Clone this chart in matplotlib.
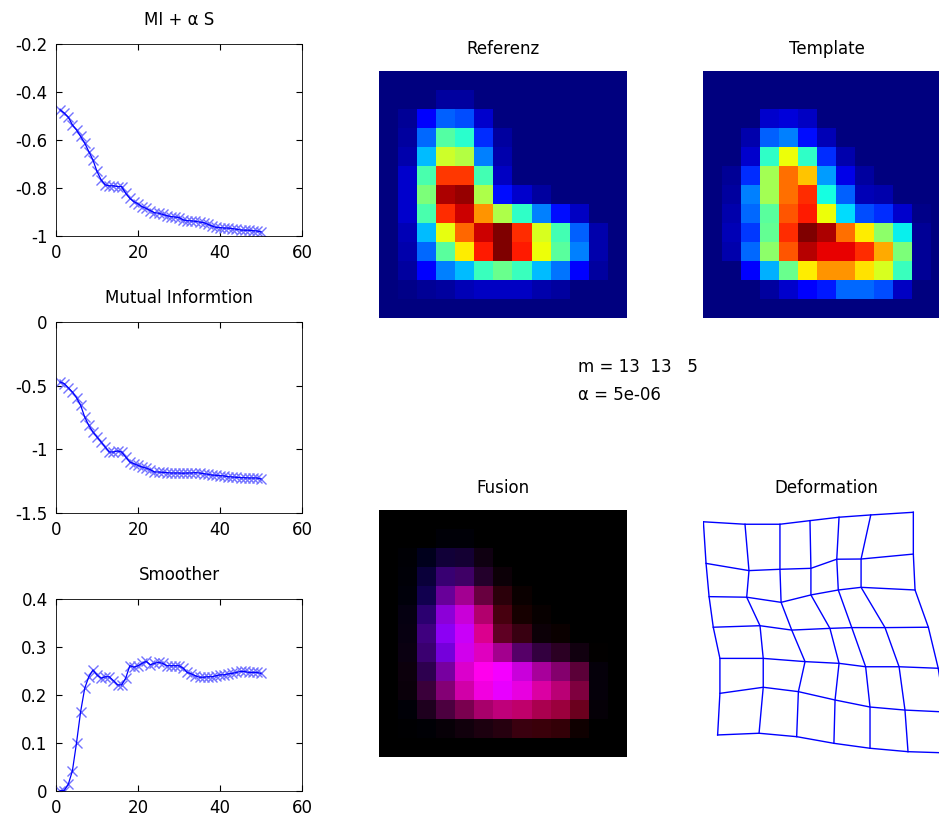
import numpy as np
import matplotlib
matplotlib.use("Agg")
import matplotlib.pyplot as plt

plt.rcParams['font.family'] = ['DejaVu Sans']

# Verlauf der Kostenfunktion ueber die Iterationen
iterations = np.arange(1, 51)

mi_alpha_s = [-0.474, -0.488, -0.505, -0.537, -0.558, -0.585, -0.613, -0.648, -0.683, -0.731,
              -0.766, -0.787, -0.791, -0.791, -0.794, -0.794, -0.822, -0.843, -0.857, -0.866,
              -0.878, -0.885, -0.894, -0.903, -0.905, -0.910, -0.915, -0.919, -0.921, -0.923,
              -0.933, -0.936, -0.937, -0.939, -0.942, -0.944, -0.951, -0.958, -0.964, -0.965,
              -0.967, -0.967, -0.969, -0.972, -0.975, -0.976, -0.976, -0.978, -0.979, -0.983]

mutual_info = [-0.471, -0.484, -0.516, -0.550, -0.594, -0.654, -0.746, -0.812, -0.864, -0.903,
               -0.942, -0.982, -1.021, -1.021, -1.013, -1.021, -1.060, -1.099, -1.113, -1.126,
               -1.139, -1.147, -1.160, -1.178, -1.178, -1.181, -1.183, -1.186, -1.186, -1.186,
               -1.188, -1.186, -1.186, -1.183, -1.186, -1.191, -1.196, -1.202, -1.204, -1.207,
               -1.209, -1.215, -1.217, -1.220, -1.223, -1.223, -1.225, -1.225, -1.225, -1.233]

smoother = [0.001, 0.001, 0.014, 0.042, 0.100, 0.165, 0.214, 0.238, 0.252, 0.242,
            0.235, 0.238, 0.238, 0.230, 0.221, 0.221, 0.235, 0.261, 0.258, 0.261,
            0.266, 0.270, 0.263, 0.266, 0.268, 0.266, 0.261, 0.261, 0.261, 0.261,
            0.256, 0.247, 0.244, 0.240, 0.237, 0.237, 0.238, 0.238, 0.240, 0.242,
            0.242, 0.244, 0.245, 0.247, 0.249, 0.249, 0.247, 0.247, 0.247, 0.245]

# 13x13 Schnittbilder (normierte Intensitaet)
referenz = np.array([
    [0, 0, 0, 0, 0, 0, 0, 0, 0, 0, 0, 0, 0],
    [0, 0, 0, 0.03, 0.03, 0, 0, 0, 0, 0, 0, 0, 0],
    [0, 0.02, 0.11, 0.22, 0.20, 0.07, 0, 0, 0, 0, 0, 0, 0],
    [0, 0.03, 0.23, 0.45, 0.40, 0.17, 0.03, 0, 0, 0, 0, 0, 0],
    [0, 0.04, 0.31, 0.60, 0.57, 0.25, 0.04, 0, 0, 0, 0, 0, 0],
    [0, 0.07, 0.44, 0.85, 0.85, 0.43, 0.06, 0, 0, 0, 0, 0, 0],
    [0, 0.07, 0.50, 0.96, 0.98, 0.56, 0.14, 0.07, 0.03, 0, 0, 0, 0],
    [0, 0.07, 0.44, 0.86, 0.93, 0.75, 0.56, 0.41, 0.25, 0.14, 0.06, 0, 0],
    [0, 0.05, 0.31, 0.63, 0.80, 0.93, 1.00, 0.86, 0.61, 0.43, 0.22, 0.04, 0],
    [0, 0.04, 0.23, 0.46, 0.66, 0.88, 1.00, 0.88, 0.64, 0.46, 0.25, 0.04, 0],
    [0, 0.03, 0.12, 0.25, 0.31, 0.42, 0.48, 0.42, 0.31, 0.24, 0.12, 0.03, 0],
    [0, 0.01, 0.02, 0.03, 0.05, 0.06, 0.06, 0.06, 0.04, 0.03, 0, 0, 0],
    [0, 0, 0, 0, 0, 0, 0, 0, 0, 0, 0, 0, 0]])

template = np.array([
    [0, 0, 0, 0, 0, 0, 0, 0, 0, 0, 0, 0, 0],
    [0, 0, 0, 0, 0, 0, 0, 0, 0, 0, 0, 0, 0],
    [0, 0, 0, 0.07, 0.08, 0.06, 0, 0, 0, 0, 0, 0, 0],
    [0, 0, 0.04, 0.22, 0.25, 0.14, 0.05, 0, 0, 0, 0, 0, 0],
    [0, 0, 0.07, 0.41, 0.64, 0.41, 0.17, 0.04, 0, 0, 0, 0, 0],
    [0, 0.02, 0.17, 0.55, 0.79, 0.70, 0.28, 0.09, 0.03, 0, 0, 0, 0],
    [0, 0.03, 0.25, 0.55, 0.79, 0.86, 0.375, 0.22, 0.05, 0.04, 0, 0, 0],
    [0, 0.04, 0.23, 0.46, 0.82, 0.88, 0.64, 0.34, 0.20, 0.17, 0.07, 0.01, 0],
    [0, 0.05, 0.18, 0.47, 0.86, 1.00, 0.96, 0.79, 0.66, 0.52, 0.36, 0.02, 0],
    [0, 0.04, 0.23, 0.52, 0.82, 0.95, 0.91, 0.91, 0.86, 0.73, 0.50, 0.02, 0],
    [0, 0, 0.12, 0.30, 0.48, 0.66, 0.75, 0.75, 0.67, 0.61, 0.42, 0.02, 0],
    [0, 0, 0, 0.03, 0.07, 0.11, 0.15, 0.23, 0.23, 0.20, 0.06, 0, 0],
    [0, 0, 0, 0, 0, 0, 0, 0, 0, 0, 0, 0, 0]])

# deformiertes Gitter (7x7 Knoten, Voxel-Koordinaten)
grid_x = np.array([
    [0.52, 2.71, 4.55, 6.13, 7.66, 9.33, 11.57],
    [0.66, 2.92, 4.55, 6.18, 7.54, 8.82, 11.57],
    [0.82, 2.80, 4.61, 6.18, 7.62, 8.82, 11.66],
    [1.04, 3.50, 5.17, 7.18, 8.33, 10.08, 12.36],
    [1.39, 3.67, 5.87, 7.66, 9.06, 10.82, 12.88],
    [1.39, 3.67, 5.52, 7.45, 9.29, 11.13, 13.24],
    [1.27, 3.45, 5.43, 7.39, 9.29, 11.29, 13.50]])
grid_y = np.array([
    [1.12, 1.25, 1.25, 1.06, 0.88, 0.76, 0.62],
    [3.31, 3.69, 3.62, 3.57, 3.09, 3.08, 2.82],
    [5.06, 5.09, 5.36, 4.97, 4.71, 4.57, 4.71],
    [6.67, 6.59, 6.82, 6.73, 6.69, 6.69, 6.67],
    [8.31, 8.31, 8.48, 8.57, 8.75, 8.75, 8.83],
    [10.15, 9.83, 10.06, 10.50, 10.87, 11.03, 11.13],
    [12.34, 12.25, 12.43, 12.78, 13.04, 13.22, 13.29]])

m_text = "m = 13  13   5"
alpha_text = "\u03b1 = 5e-06"

W, H = 939, 818
fig = plt.figure(figsize=(W / 100, H / 100), dpi=100)

def px_axes(x0, y0, x1, y1):
    return fig.add_axes([x0 / W, 1 - y1 / H, (x1 - x0) / W, (y1 - y0) / H])

def line_plot(ax, y, ylim, yticks, yticklabels, title):
    ax.plot(iterations, y, '-', color='blue', lw=0.9, zorder=3)
    ax.plot(iterations, y, 'x', color=(0.45, 0.45, 1.0), ms=6.5, mew=1.0, zorder=2)
    ax.set_xlim(0, 60)
    ax.set_ylim(*ylim)
    ax.set_xticks([0, 20, 40, 60])
    ax.set_yticks(yticks)
    ax.set_yticklabels(yticklabels)
    ax.tick_params(direction='in', top=True, right=True, labelsize=12, length=4, pad=6)
    for s in ax.spines.values():
        s.set_linewidth(0.6)
    ax.set_title(title, fontsize=12, pad=14)

ax1 = px_axes(56, 44, 302, 236)
line_plot(ax1, mi_alpha_s, (-1, -0.2), [-1, -0.8, -0.6, -0.4, -0.2],
          ['-1', '-0.8', '-0.6', '-0.4', '-0.2'], "MI + \u03b1 S")
ax2 = px_axes(56, 322, 302, 513)
line_plot(ax2, mutual_info, (-1.5, 0), [-1.5, -1, -0.5, 0],
          ['-1.5', '-1', '-0.5', '0'], "Mutual Informtion")
ax3 = px_axes(56, 599, 302, 791)
line_plot(ax3, smoother, (0, 0.4), [0, 0.1, 0.2, 0.3, 0.4],
          ['0', '0.1', '0.2', '0.3', '0.4'], "Smoother")

ax_ref = px_axes(379, 71, 626, 318)
ax_ref.imshow(referenz, cmap='jet', vmin=0, vmax=1, interpolation='nearest', aspect='auto')
ax_ref.set_axis_off()
ax_ref.set_title("Referenz", fontsize=12, pad=12)

ax_tpl = px_axes(703, 71, 950, 318)
ax_tpl.imshow(template, cmap='jet', vmin=0, vmax=1, interpolation='nearest', aspect='auto')
ax_tpl.set_axis_off()
ax_tpl.set_title("Template", fontsize=12, pad=12)

# Fusion: rot = Template, blau = Referenz
fusion = np.zeros((13, 13, 3))
fusion[..., 0] = template
fusion[..., 2] = referenz
ax_fus = px_axes(379, 510, 626, 757)
ax_fus.imshow(np.clip(fusion, 0, 1), interpolation='nearest', aspect='auto')
ax_fus.set_axis_off()
ax_fus.set_title("Fusion", fontsize=12, pad=12)

ax_def = px_axes(703, 510, 950, 757)
for i in range(grid_x.shape[0]):
    ax_def.plot(grid_x[i], grid_y[i], color='blue', lw=1)
for j in range(grid_x.shape[1]):
    ax_def.plot(grid_x[:, j], grid_y[:, j], color='blue', lw=1)
ax_def.set_xlim(0.5, 13.5)
ax_def.set_ylim(13.5, 0.5)
ax_def.set_axis_off()
ax_def.set_title("Deformation", fontsize=12, pad=12)

fig.text(578 / W, 1 - 367 / H, m_text, fontsize=12, ha='left', va='center')
fig.text(578 / W, 1 - 395 / H, alpha_text, fontsize=12, ha='left', va='center')

fig.savefig("out.png", dpi=100)
